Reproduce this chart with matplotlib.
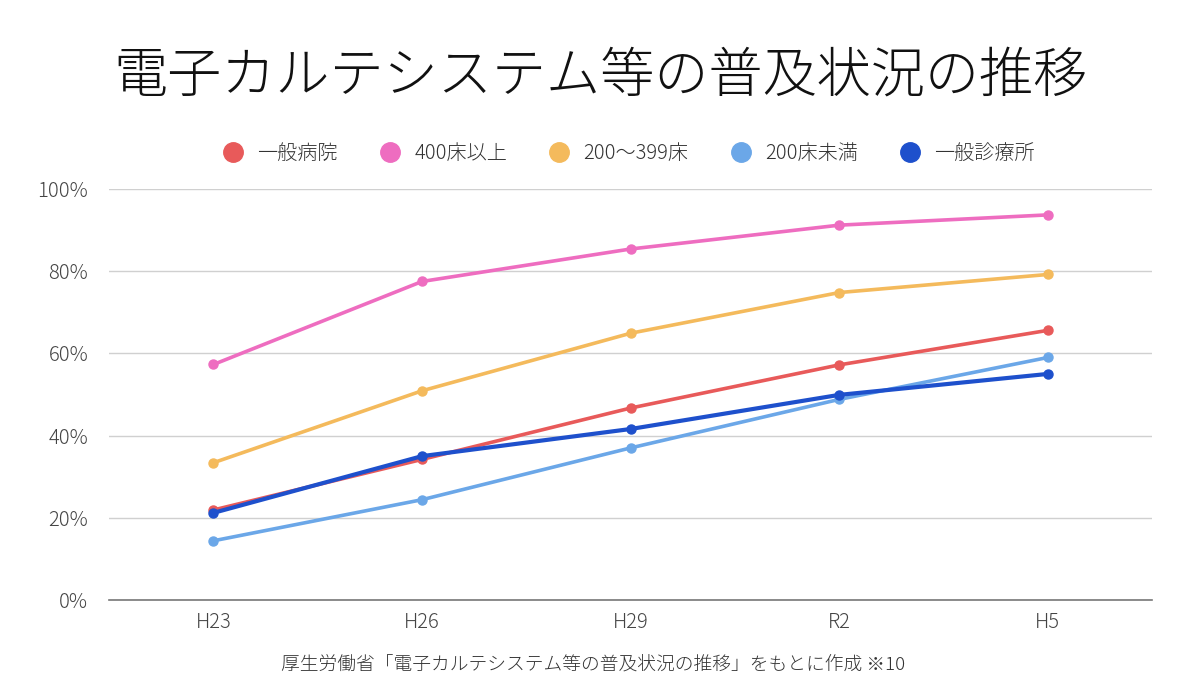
import numpy as np
import matplotlib
matplotlib.use("Agg")
import matplotlib.pyplot as plt
from matplotlib.lines import Line2D

plt.rcParams['font.family'] = ['Noto Sans CJK JP', 'DejaVu Sans']

# データ
years = ["H23", "H26", "H29", "R2", "H5"]
ippan_byoin = [21.9, 34.2, 46.7, 57.2, 65.6]
over400 = [57.3, 77.5, 85.4, 91.2, 93.7]
b200_399 = [33.4, 50.9, 64.9, 74.8, 79.2]
under200 = [14.4, 24.4, 37.0, 48.8, 59.0]
shinryojo = [21.2, 35.0, 41.6, 49.9, 55.0]

labels = ["一般病院", "400床以上", "200〜399床", "200床未満", "一般診療所"]
colors = ["#E85A5A", "#EE6DC0", "#F4BA5C", "#6BA7E8", "#1E50CC"]
series = [ippan_byoin, over400, b200_399, under200, shinryojo]

fig = plt.figure(figsize=(12, 7), dpi=100)
ax = fig.add_axes([0.091, 0.1429, 0.869, 0.5871])

x = np.arange(len(years))
for s, c in zip(series, colors):
    lw = 3.0 if c == "#1E50CC" else 2.6
    ax.plot(x, s, color=c, lw=lw, marker="o", markersize=6.5, solid_capstyle="round")

ax.set_xlim(-0.5, len(years) - 0.5)
ax.set_ylim(0, 100)
ax.set_xticks(x)
ax.set_xticklabels(years)
ax.set_yticks(np.arange(0, 101, 20))
ax.set_yticklabels([f"{v}%" for v in range(0, 101, 20)])
ax.tick_params(axis="both", length=0, labelsize=14.5, colors="#444444")
ax.tick_params(axis="y", pad=15)
ax.tick_params(axis="x", pad=9)
for t in ax.get_xticklabels() + ax.get_yticklabels():
    t.set_fontweight("light")
ax.grid(axis="y", color="#d0d0d0", lw=1)
ax.set_axisbelow(True)
for sp in ["top", "right", "left"]:
    ax.spines[sp].set_visible(False)
ax.spines["bottom"].set_color("#777777")
ax.spines["bottom"].set_linewidth(1.2)

handles = [Line2D([], [], marker="o", ls="", color=c, markersize=14) for c in colors]
leg = fig.legend(handles, labels, loc="center", bbox_to_anchor=(0.52, 0.781), ncol=5,
                 frameon=False, fontsize=14.5, handletextpad=0.2, columnspacing=1.6,
                 labelcolor="#333333")
for t in leg.get_texts():
    t.set_fontweight("light")

fig.text(0.5, 0.892, "電子カルテシステム等の普及状況の推移", ha="center", va="center",
         fontsize=39, color="#111111", fontweight="light")
fig.text(0.494, 0.05, "厚生労働省「電子カルテシステム等の普及状況の推移」をもとに作成 ※10",
         ha="center", va="center", fontsize=13.5, color="#333333", fontweight="light")

fig.savefig("out.png", dpi=100, facecolor="white")
